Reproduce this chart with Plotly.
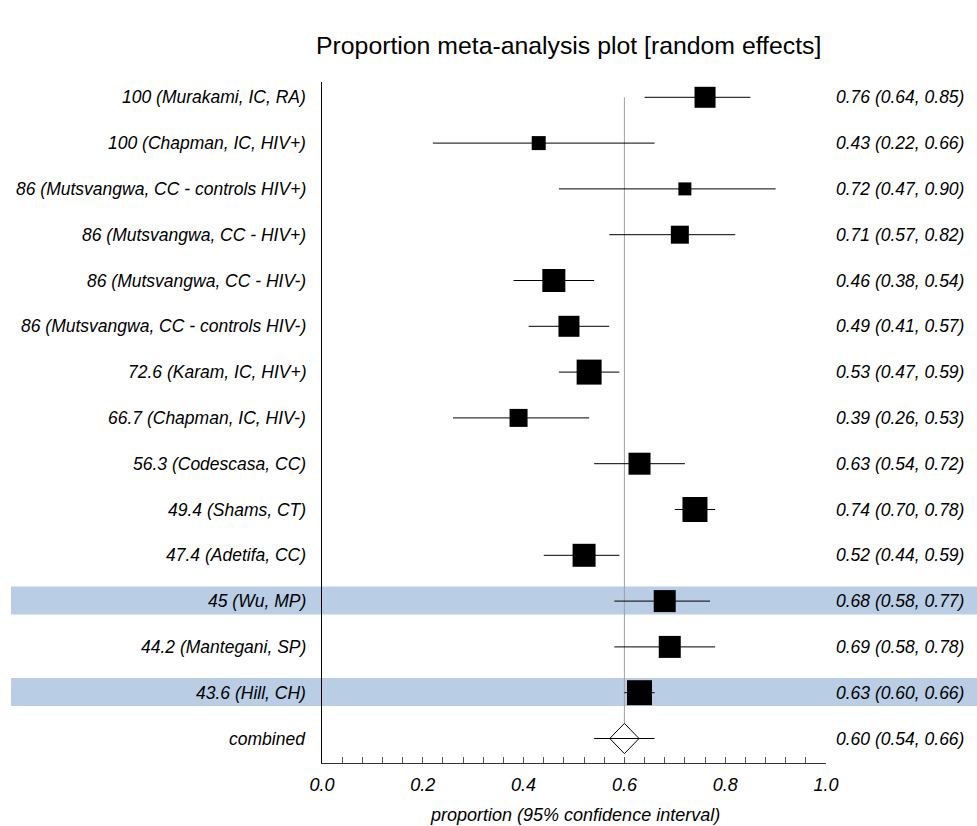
import plotly.graph_objects as go

# ---------------- data ----------------
study_labels = [
    "100 (Murakami, IC, RA)",
    "100 (Chapman, IC, HIV+)",
    "86 (Mutsvangwa, CC - controls HIV+)",
    "86 (Mutsvangwa, CC - HIV+)",
    "86 (Mutsvangwa, CC - HIV-)",
    "86 (Mutsvangwa, CC - controls HIV-)",
    "72.6 (Karam, IC, HIV+)",
    "66.7 (Chapman, IC, HIV-)",
    "56.3 (Codescasa, CC)",
    "49.4 (Shams, CT)",
    "47.4 (Adetifa, CC)",
    "45 (Wu, MP)",
    "44.2 (Mantegani, SP)",
    "43.6 (Hill, CH)",
]
estimates = [0.76, 0.43, 0.72, 0.71, 0.46, 0.49, 0.53, 0.39, 0.63, 0.74, 0.52, 0.68, 0.69, 0.63]
ci_low = [0.64, 0.22, 0.47, 0.57, 0.38, 0.41, 0.47, 0.26, 0.54, 0.70, 0.44, 0.58, 0.58, 0.60]
ci_high = [0.85, 0.66, 0.90, 0.82, 0.54, 0.57, 0.59, 0.53, 0.72, 0.78, 0.59, 0.77, 0.78, 0.66]
weights_px = [21, 14, 13, 18, 23, 21, 25, 18, 22, 25, 23, 22, 22, 25]
highlighted = [False] * 11 + [True, False, True]

combined_label = "combined"
combined_est = 0.60
combined_low = 0.54
combined_high = 0.66
combined_diamond_low = 0.571
combined_diamond_high = 0.629

x_tick_vals = [0.0, 0.2, 0.4, 0.6, 0.8, 1.0]
x_tick_text = ["0.0", "0.2", "0.4", "0.6", "0.8", "1.0"]

title_text = "Proportion meta-analysis plot [random effects]"
x_title = "proportion (95% confidence interval)"

# ---------------- layout constants ----------------
FONT = "Arial, 'Liberation Sans', sans-serif"
W, H = 977, 826
L, R, T, B = 322, 151, 82, 63
plot_w = W - L - R
plot_h = H - T - B
n = len(study_labels)
rows = list(range(n))
comb_row = n
y_top, y_bot = -0.334, 14.535


def px_to_paper_x(px):
    return (px - L) / plot_w


def px_to_paper_y(py):
    return (H - B - py) / plot_h


fig = go.Figure()

# study CIs + squares
fig.add_trace(go.Scatter(
    x=estimates, y=rows, mode="markers",
    marker=dict(symbol="square", size=weights_px, color="black", opacity=1,
                line=dict(width=0)),
    error_x=dict(type="data", symmetric=False,
                 array=[h - e for h, e in zip(ci_high, estimates)],
                 arrayminus=[e - l for e, l in zip(estimates, ci_low)],
                 width=0, thickness=1, color="black"),
    hoverinfo="skip", showlegend=False, cliponaxis=False,
))

# combined whisker
fig.add_trace(go.Scatter(
    x=[combined_low, combined_high], y=[comb_row, comb_row], mode="lines",
    line=dict(color="black", width=1), hoverinfo="skip", showlegend=False,
))
# combined diamond
dh = 0.33
fig.add_trace(go.Scatter(
    x=[combined_diamond_low, combined_est, combined_diamond_high, combined_est, combined_diamond_low],
    y=[comb_row, comb_row - dh, comb_row, comb_row + dh, comb_row],
    mode="lines", line=dict(color="black", width=1), hoverinfo="skip", showlegend=False,
))

shapes = []
# highlight bands
for i, hl in enumerate(highlighted):
    if hl:
        shapes.append(dict(type="rect", xref="paper", yref="y",
                           x0=px_to_paper_x(11), x1=px_to_paper_x(W + 5),
                           y0=i - 0.32, y1=i + 0.29,
                           fillcolor="#b9cde5", line=dict(width=0), layer="below"))
# reference line at combined estimate
shapes.append(dict(type="line", xref="x", yref="y",
                   x0=combined_est, x1=combined_est, y0=0, y1=comb_row - dh,
                   line=dict(color="#a0a0a0", width=1), layer="below"))

annotations = []
all_labels = study_labels + [combined_label]
right_texts = [f"{e:.2f} ({l:.2f}, {h:.2f})" for e, l, h in zip(estimates, ci_low, ci_high)]
right_texts.append(f"{combined_est:.2f} ({combined_low:.2f}, {combined_high:.2f})")
for i, (lab, rt) in enumerate(zip(all_labels, right_texts)):
    annotations.append(dict(xref="paper", yref="y", x=px_to_paper_x(308), y=i,
                            text=lab, showarrow=False, xanchor="right", yanchor="middle",
                            font=dict(family=FONT, size=17.5, color="black", style="italic")))
    annotations.append(dict(xref="paper", yref="y", x=px_to_paper_x(966), y=i,
                            text=rt, showarrow=False, xanchor="right", yanchor="middle",
                            font=dict(family=FONT, size=17.5, color="black", style="italic")))

# title
annotations.append(dict(xref="paper", yref="paper", x=px_to_paper_x(568), y=px_to_paper_y(45),
                        text=title_text, showarrow=False, xanchor="center", yanchor="middle",
                        font=dict(family=FONT, size=24.8, color="black", style="normal")))
# x axis title
annotations.append(dict(xref="paper", yref="paper", x=px_to_paper_x(575), y=px_to_paper_y(815),
                        text=x_title, showarrow=False, xanchor="center", yanchor="middle",
                        font=dict(family=FONT, size=18, color="black", style="italic")))

fig.update_layout(
    width=W, height=H, autosize=False,
    margin=dict(l=L, r=R, t=T, b=B, pad=0),
    paper_bgcolor="white", plot_bgcolor="white",
    shapes=shapes, annotations=annotations,
    xaxis=dict(range=[0, 1], showgrid=False, zeroline=False,
               showline=True, linecolor="#333333", linewidth=1,
               ticks="inside", ticklen=6, tickcolor="#555555", tickwidth=1,
               tickvals=x_tick_vals, ticktext=x_tick_text,
               ticklabelstandoff=5,
               tickfont=dict(family=FONT, size=18, color="black", style="italic"),
               minor=dict(dtick=0.04, tick0=0, ticks="inside", ticklen=6,
                          tickcolor="#555555", tickwidth=1, showgrid=False)),
    yaxis=dict(range=[y_bot, y_top], showgrid=False, zeroline=False,
               showline=True, linecolor="black", linewidth=1,
               showticklabels=False, ticks=""),
    font=dict(family=FONT, size=17, color="black"),
)

fig.write_html("out.html")
